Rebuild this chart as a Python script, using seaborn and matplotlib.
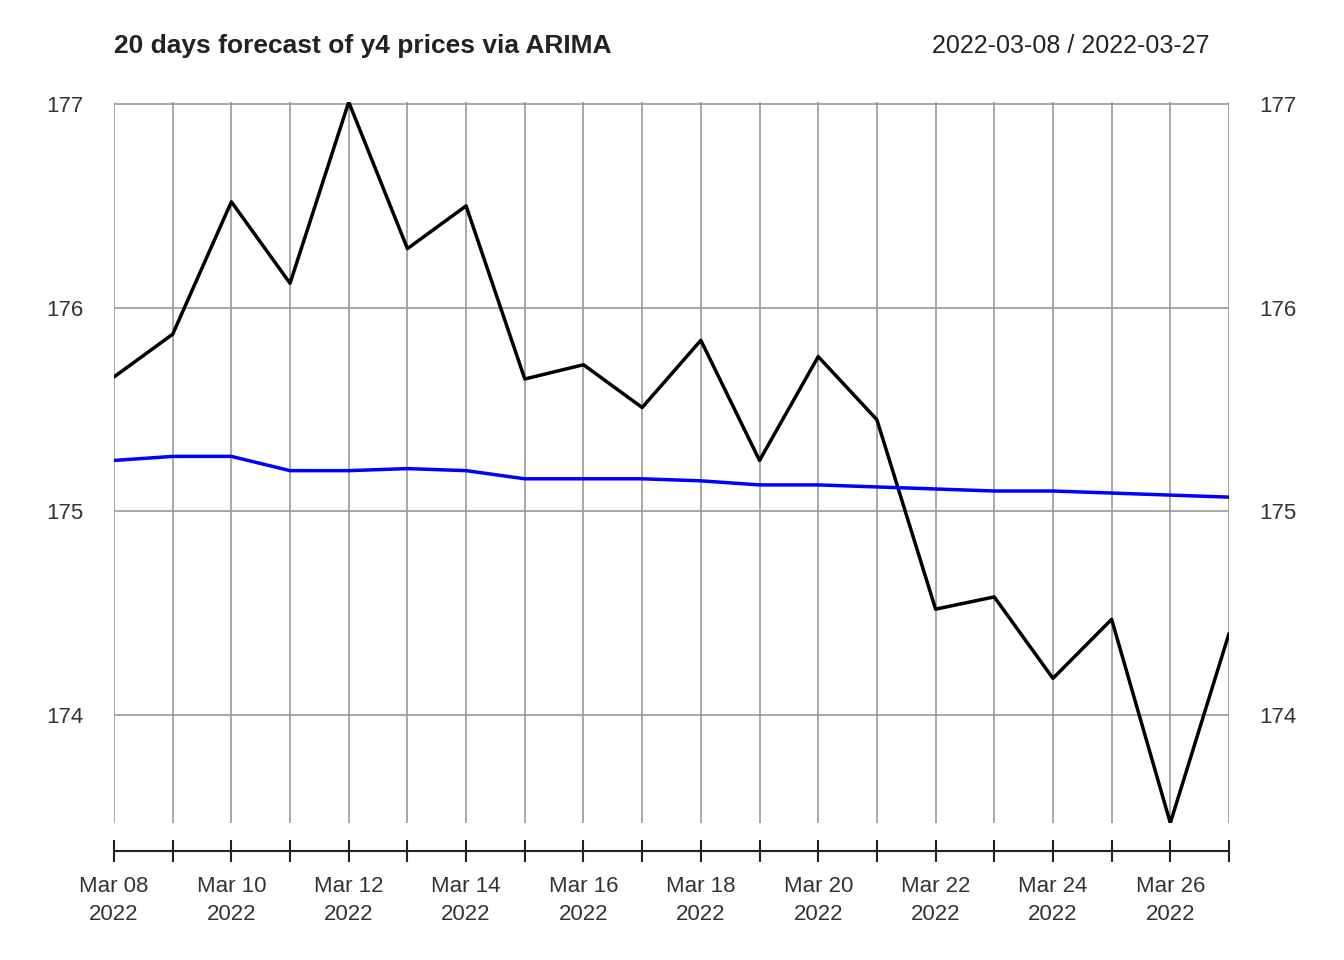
import matplotlib
matplotlib.use("Agg")
import matplotlib.pyplot as plt
import seaborn as sns
import pandas as pd
import numpy as np

dates = pd.date_range("2022-03-08", "2022-03-27", freq="D")
actual = [175.66, 175.87, 176.52, 176.12, 177.01, 176.29, 176.50, 175.65, 175.72, 175.51,
          175.84, 175.25, 175.76, 175.45, 174.52, 174.58, 174.18, 174.47, 173.47, 174.40]
forecast = [175.25, 175.27, 175.27, 175.20, 175.20, 175.21, 175.20, 175.16, 175.16, 175.16,
            175.15, 175.13, 175.13, 175.12, 175.11, 175.10, 175.10, 175.09, 175.08, 175.07]
yticks = [174, 175, 176, 177]

sns.set_style("white")
plt.rcParams['font.family'] = ['Liberation Sans', 'DejaVu Sans']
fig = plt.figure(figsize=(13.44, 9.6), dpi=100)
ax = fig.add_axes([114/1344, 1-823/960, (1229-114)/1344, (823-102)/960])
df = pd.DataFrame({"date": dates, "actual": actual, "forecast": forecast})
for d in dates:
    ax.axvline(d, color="#999999", lw=1.2, zorder=0)
for y in yticks:
    ax.axhline(y, color="#999999", lw=1.2, zorder=0)
sns.lineplot(data=df, x="date", y="actual", color="black", lw=2.5, ax=ax)
sns.lineplot(data=df, x="date", y="forecast", color="blue", lw=2.5, ax=ax)
ax.set_xlim(dates[0], dates[-1])
ax.set_ylim(173.47, 177.01)
ax.set_xlabel(""); ax.set_ylabel("")
for s in ["top", "left", "right"]:
    ax.spines[s].set_visible(False)
ax.spines["bottom"].set_position(("outward", 20))
ax.spines["bottom"].set_linewidth(1.5)
ax.spines["bottom"].set_color("#222222")
ax.set_xticks(dates)
ax.set_xticklabels([d.strftime("%b %d\n%Y") if i % 2 == 0 else "" for i, d in enumerate(dates)],
                   fontsize=16, color="#333333", linespacing=1.45)
ax.tick_params(axis="x", bottom=True, direction="inout", length=16, width=1.5, pad=10, color="#222222")
ax.set_yticks(yticks)
ax.set_yticklabels([str(y) for y in yticks], fontsize=16, color="#333333")
ax.tick_params(axis="y", length=0, labelright=True, labelleft=True, pad=22)
fig.text(114/1344, 1-46/960, "20 days forecast of y4 prices via ARIMA", fontsize=19, fontweight="bold", color="#222222", va="center")
fig.text(1210/1344, 1-46/960, "2022-03-08 / 2022-03-27", fontsize=18, color="#222222", va="center", ha="right")
fig.savefig("out.png", dpi=100, facecolor="white")
